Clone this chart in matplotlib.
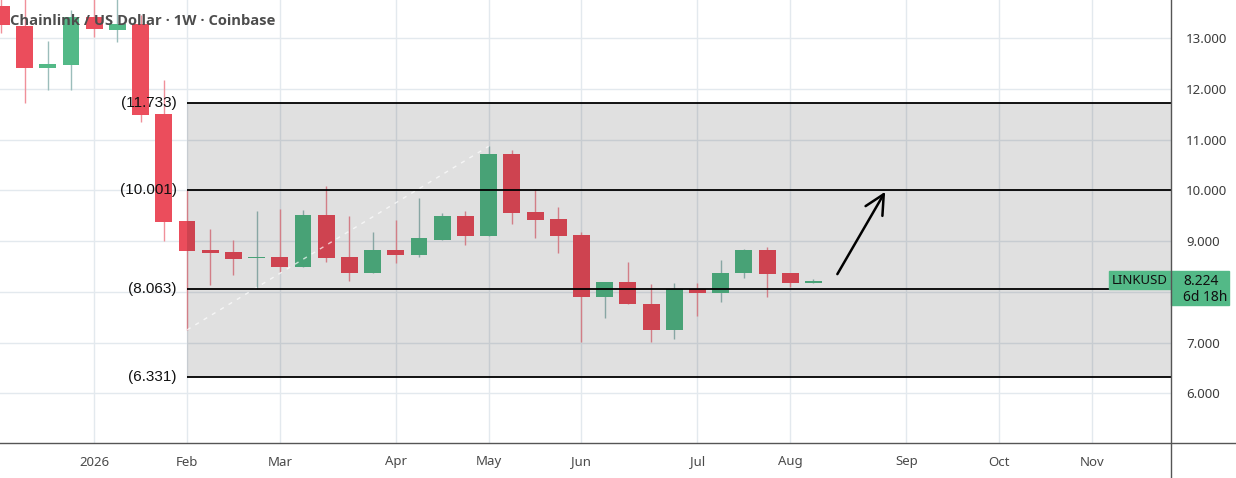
import numpy as np
import pandas as pd
import matplotlib.pyplot as plt
from matplotlib.lines import Line2D
from matplotlib.patches import Rectangle
from matplotlib.transforms import blended_transform_factory

# -------------------------
# data (weekly LINK/USD candles)
# -------------------------
week_start = pd.Timestamp('2025-12-08')
opens = [13.63, 13.25, 12.41, 12.47, 13.41, 13.17, 13.29, 11.50,
         9.39, 8.82, 8.78, 8.665, 8.68, 8.50, 9.51, 8.68, 8.38, 8.82,
         8.72, 9.03, 9.49, 9.11, 10.71, 9.57, 9.43, 9.13, 7.90, 8.19,
         7.77, 7.25, 8.05, 7.98, 8.37, 8.82, 8.38, 8.17]
highs = [13.90, 13.85, 12.94, 13.56, 13.80, 13.85, 13.45, 12.17,
         10.00, 9.23, 9.03, 9.59, 9.63, 9.61, 10.08, 9.49, 9.19, 9.41,
         9.86, 9.55, 9.59, 10.87, 10.79, 10.02, 9.67, 9.19, 8.19, 8.58,
         8.15, 8.17, 8.17, 8.62, 8.84, 8.88, 8.38, 8.245]
lows = [13.10, 11.72, 11.99, 11.99, 13.02, 12.93, 11.35, 9.00,
        7.25, 8.13, 8.34, 8.06, 8.40, 8.49, 8.59, 8.21, 8.38, 8.56,
        8.68, 9.03, 8.92, 9.11, 9.34, 9.06, 8.76, 7.01, 7.48, 7.76,
        7.01, 7.07, 7.52, 7.80, 8.27, 7.90, 8.10, 8.17]
closes = [13.27, 12.41, 12.49, 13.41, 13.19, 13.29, 11.48, 9.375,
          8.80, 8.76, 8.65, 8.678, 8.50, 9.51, 8.67, 8.38, 8.82, 8.72,
          9.07, 9.49, 9.11, 10.71, 9.55, 9.41, 9.11, 7.90, 8.19, 7.76,
          7.25, 8.05, 7.98, 8.38, 8.82, 8.35, 8.17, 8.224]

levels = [11.733, 10.001, 8.063, 6.331]
zone_start = pd.Timestamp('2026-02-02')
trend_from = pd.Timestamp('2026-02-02')   # low of this week
trend_to = pd.Timestamp('2026-05-04')     # high of this week
arrow_from = (28.03, 8.35)                # bars after zone start, price
arrow_to = (30.09, 9.974)
price_ticks = [6, 7, 8, 9, 10, 11, 12, 13]
shown_ticks = [6, 7, 9, 10, 11, 12, 13]

green = '#53b987'
red = '#eb4d5c'
green_wick = '#9bbdbb'
red_wick = '#f0909a'

opens = np.array(opens)
highs = np.array(highs)
lows = np.array(lows)
closes = np.array(closes)

calendar = pd.date_range(week_start, '2026-11-30', freq='W-MON')
x = np.arange(len(opens))
up = closes >= opens

def bar_of(day):
    return int(np.where(calendar == day)[0][0])

z0 = bar_of(zone_start)

# -------------------------
# figure
# -------------------------
fig = plt.figure(figsize=(12.36, 4.78), dpi=100)
ax = fig.add_axes([0, 35 / 478, 1171 / 1236, 443 / 478])
ax.set_xlim(z0 - 8.06, z0 + 42.41)
ax.set_ylim(5.02, 13.755)

# grid
month_ticks, month_labels = [], []
seen = set()
for i, d in enumerate(calendar):
    if d.year < 2026 or (d.year, d.month) in seen:
        continue
    seen.add((d.year, d.month))
    month_ticks.append(i)
    month_labels.append(str(d.year) if d.month == 1 else d.strftime('%b'))

for t in month_ticks:
    ax.axvline(t, color='#e3e9ee', lw=1, zorder=0)
for p in price_ticks:
    ax.axhline(p, color='#e3e9ee', lw=1, zorder=0)

# candles
ax.vlines(x[up], lows[up], highs[up], color=green_wick, lw=1, zorder=1)
ax.vlines(x[~up], lows[~up], highs[~up], color=red_wick, lw=1, zorder=1)
body = np.maximum(np.abs(closes - opens), 0.025)
ax.bar(x, body, bottom=np.minimum(opens, closes), width=0.73,
       color=np.where(up, green, red), zorder=2)

# shaded zone + levels
xr = ax.get_xlim()[1]
ax.fill_between([z0, xr], levels[-1], levels[0], color='black', alpha=0.12,
                lw=0, zorder=3)
ax.hlines(levels, z0, xr, color='black', lw=1.3, zorder=4)
for lv in levels:
    ax.text(z0 - 0.45, lv, '(%.3f)' % lv, ha='right', va='center',
            fontsize=11, family='Liberation Sans', color='#111111', zorder=5)

# faint trend line low -> high
t0, t1 = bar_of(trend_from), bar_of(trend_to)
ax.plot([t0, t1], [lows[t0], highs[t1]], color='white', alpha=0.7, lw=1,
        dashes=(3, 4), zorder=3.5)

# arrow
ax.annotate('', xy=(z0 + arrow_to[0], arrow_to[1]),
            xytext=(z0 + arrow_from[0], arrow_from[1]),
            arrowprops=dict(arrowstyle='->,head_length=0.7,head_width=0.35',
                            lw=1.8, color='black', mutation_scale=20,
                            shrinkA=0, shrinkB=0), zorder=6)

# axes styling
for s in ['top', 'left', 'right', 'bottom']:
    ax.spines[s].set_visible(False)
ax.set_xticks(month_ticks)
ax.set_xticklabels(month_labels)
ax.yaxis.tick_right()
ax.set_yticks(shown_ticks)
ax.set_yticklabels(['%.3f' % v for v in shown_ticks])
ax.tick_params(axis='y', length=0, pad=11, labelsize=9.5, labelcolor='#3c3c3c')
ax.tick_params(axis='x', length=0, pad=9, labelsize=9.5, labelcolor='#4a4a4a')
for lab in ax.get_xticklabels() + ax.get_yticklabels():
    lab.set_family('Noto Sans')
for lab in ax.get_yticklabels():
    if lab.get_text() == '10.000':
        lab.set_fontweight('bold')
for lab in ax.get_xticklabels():
    if lab.get_text().isdigit():
        lab.set_fontweight('bold')

# axis lines (span the whole figure like the original)
fig.add_artist(Line2D([0, 1], [35 / 478, 35 / 478], color='#555555', lw=1))
fig.add_artist(Line2D([1171 / 1236, 1171 / 1236], [0, 1], color='#555555', lw=1))

# last price labels
last = closes[-1]
tr = blended_transform_factory(ax.transAxes, ax.transData)
bw = 62 / 1171
ax.add_patch(Rectangle((1 - bw, last - 0.17), bw, 0.355, transform=tr,
                       color=green, clip_on=False, zorder=7))
ax.text(1 - bw / 2, last + 0.01, 'LINKUSD', transform=tr, ha='center',
        va='center', fontsize=9.5, family='Noto Sans', color='#111111', zorder=8)
ax.add_patch(Rectangle((1, last - 0.48), 58 / 1171, 0.67, transform=tr,
                       color=green, clip_on=False, zorder=7))
ax.text(1 + 12 / 1171, last - 0.01, '%.3f' % last, transform=tr, ha='left',
        va='center', fontsize=10, family='Noto Sans', color='#111111',
        clip_on=False, zorder=8)
ax.text(1 + 12 / 1171, last - 0.33, '6d 18h', transform=tr, ha='left',
        va='center', fontsize=10, family='Noto Sans', color='#111111',
        clip_on=False, zorder=8)

# title
ax.text(10 / 1171, 1 - 21 / 443, 'Chainlink / US Dollar · 1W · Coinbase',
        transform=ax.transAxes, ha='left', va='center', fontsize=10.6,
        family='Open Sans', fontweight='bold', color='#4d4d4d', zorder=9)

fig.savefig('out.png', dpi=100)
print('Saved: out.png')
